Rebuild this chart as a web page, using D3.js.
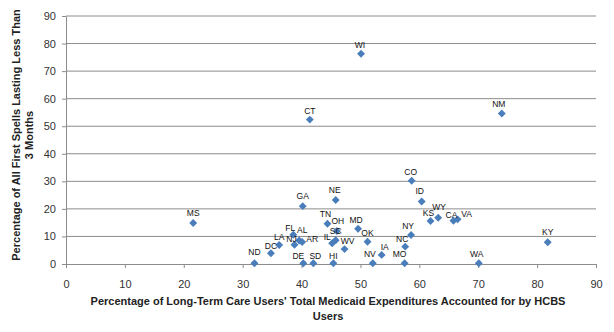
<!DOCTYPE html>
<meta charset="utf-8">
<title>HCBS share vs short spells</title>
<script src="https://d3js.org/d3.v7.min.js"></script>
<style>
  body { margin: 0; background: #fff; }
  text { font-family: "Liberation Sans", Arial, sans-serif; fill: #222; }
  .tick text { font-size: 11px; fill: #333; }
  .grid line { stroke: #8c8c8c; stroke-width: 1px; }
  .axis path, .axis line { stroke: #8c8c8c; }
  text.title { font-size: 11px; font-weight: bold; text-anchor: middle; }
  text.lbl { font-size: 8.5px; text-anchor: middle; fill: #111; }
</style>
<div id="chart"></div>
<script>
// states, x = % of LTC medicaid spend on HCBS users, y = % first spells < 3 months
var states = ["MS","ND","DC","LA","FL","NJ","AL","AR","GA","DE","SD","CT","TN","NE","OH","SC","IL","HI","WV","WI","MD","OK","NV","IA","MO","NC","NY","CO","ID","KS","WY","CA","VA","WA","NM","KY"];
var hcbsShare = [21.6,32.0,34.8,36.2,38.6,38.8,39.6,40.1,40.2,40.3,42.0,41.4,44.4,45.8,46.0,45.8,45.2,45.4,47.3,50.1,49.6,51.2,52.1,53.6,57.5,57.6,58.6,58.7,60.4,61.9,63.2,65.8,66.5,70.1,74.0,81.8];
var shortSpells = [14.9,0.3,3.9,6.9,10.6,7.0,8.5,8.0,21.0,0.3,0.3,52.4,14.6,23.2,12.0,8.6,7.5,0.3,5.4,76.3,12.8,8.1,0.3,3.3,0.3,6.3,10.5,30.2,22.7,15.6,16.8,15.7,16.2,0.3,54.6,7.9];
var xTicks = [0,10,20,30,40,50,60,70,80,90];
var yTicks = [0,10,20,30,40,50,60,70,80,90];

// label nudges (px) from the default spot just above each point
var nudge = {
  ND: [0, -1], DC: [0, 3], LA: [0, 2], FL: [-3, 3], NJ: [-3, 4], AL: [3, -1],
  AR: [10, 7], DE: [-5, 3], SD: [2, 3], HI: [0, 3], TN: [-2, 0], NE: [-1, 0],
  OH: [1, 0], SC: [0, 1], IL: [-5, 4], WV: [3, 2], MD: [-2, 1], OK: [0, 1],
  NV: [-3, 1], IA: [3, 2], MO: [-5, 1], NC: [-3, 2], NY: [-3, 1], CO: [-1, 1],
  ID: [-2, 0], KS: [-2, 2], WY: [1, -1], CA: [-2, 4], VA: [9, 5], KY: [0, 0],
  WA: [-2, 1], WI: [-1, 1], CT: [0, 1], NM: [-3, 0]
};

var W = 614, H = 332;
var margin = {top: 16, right: 18, bottom: 68, left: 66};
var width = W - margin.left - margin.right,
    height = H - margin.top - margin.bottom;

var svg = d3.select("#chart").append("svg")
    .attr("width", W).attr("height", H);
var g = svg.append("g")
    .attr("transform", "translate(" + margin.left + "," + margin.top + ")");

var x = d3.scaleLinear().domain([0, 90]).range([0, width]);
var y = d3.scaleLinear().domain([0, 90]).range([height, 0]);

// gridlines
g.append("g").attr("class", "grid")
  .selectAll("line").data(yTicks.filter(function(d){ return d > 0; })).enter()
  .append("line")
    .attr("x1", 0).attr("x2", width)
    .attr("y1", function(d){ return y(d); }).attr("y2", function(d){ return y(d); });

// axes
g.append("g").attr("class", "axis")
  .attr("transform", "translate(0," + height + ")")
  .call(d3.axisBottom(x).tickValues(xTicks).tickSize(4).tickPadding(12).tickSizeOuter(0));
g.append("g").attr("class", "axis")
  .call(d3.axisLeft(y).tickValues(yTicks).tickSize(4).tickPadding(6).tickSizeOuter(0));
svg.selectAll(".axis .domain").attr("stroke", "#8c8c8c");

// points
var pts = states.map(function(s, i){ return {st: s, x: hcbsShare[i], y: shortSpells[i]}; });
var diamond = d3.symbol().type(d3.symbolDiamond2).size(40);
g.selectAll("path.pt").data(pts).enter()
  .append("path").attr("class", "pt")
    .attr("d", diamond)
    .attr("transform", function(d){ return "translate(" + x(d.x) + "," + y(d.y) + ")"; })
    .attr("fill", "#4a7ebb");

g.selectAll("text.lbl").data(pts).enter()
  .append("text").attr("class", "lbl")
    .attr("x", function(d){ return x(d.x) + (nudge[d.st] ? nudge[d.st][0] : 0); })
    .attr("y", function(d){ return y(d.y) - 7 + (nudge[d.st] ? nudge[d.st][1] : 0); })
    .text(function(d){ return d.st; });

// axis titles
svg.append("text").attr("class", "title")
  .attr("x", margin.left + width / 2 - 3).attr("y", 305)
  .text("Percentage of Long-Term Care Users' Total Medicaid Expenditures Accounted for by HCBS");
svg.append("text").attr("class", "title")
  .attr("x", margin.left + width / 2 - 3).attr("y", 320)
  .text("Users");

var yt = svg.append("text").attr("class", "title")
  .attr("transform", "translate(20," + (margin.top + height / 2 - 5) + ") rotate(-90)");
yt.append("tspan").attr("x", 0).attr("dy", 0).text("Percentage of All First Spells Lasting Less Than");
yt.append("tspan").attr("x", 0).attr("dy", 13).text("3 Months");
</script>
